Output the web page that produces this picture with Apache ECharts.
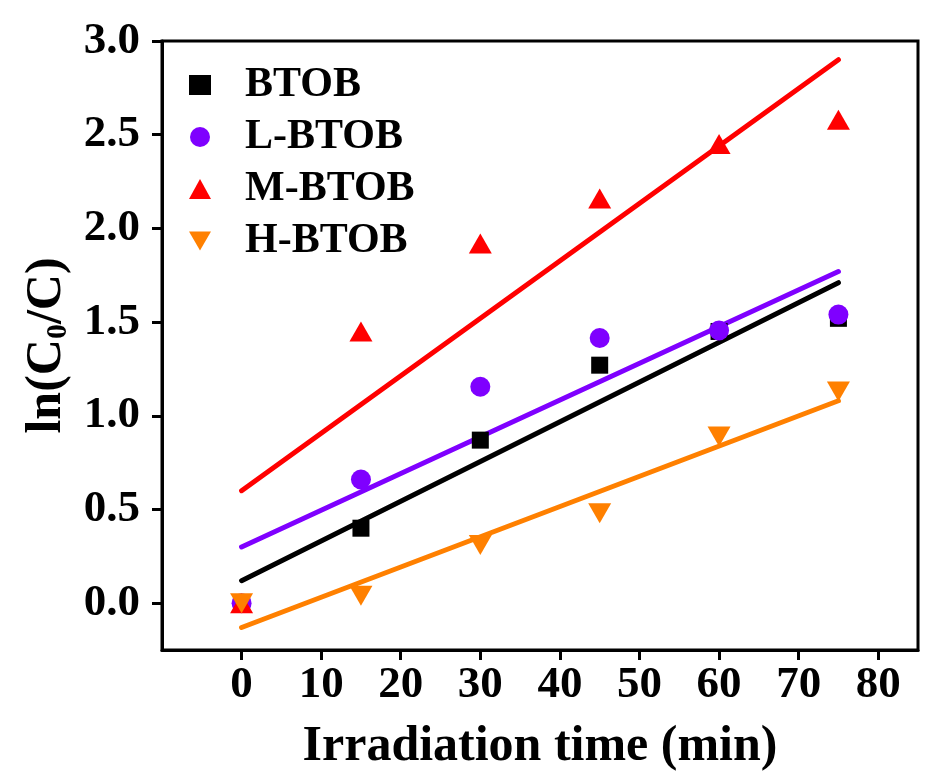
<!DOCTYPE html>
<html>
<head>
<meta charset="utf-8">
<script src="https://cdn.jsdelivr.net/npm/echarts@6/dist/echarts.min.js"></script>
<style>html,body{margin:0;padding:0;background:#fff}#c{width:945px;height:784px}</style>
</head>
<body>
<div id="c"></div>
<script>
const times = [0, 15, 30, 45, 60, 75];
const btob  = [0, 0.40, 0.87, 1.27, 1.45, 1.52];
const lbtob = [0, 0.66, 1.155, 1.415, 1.455, 1.54];
const mbtob = [0, 1.45, 1.92, 2.16, 2.45, 2.58];
const hbtob = [0, 0.04, 0.31, 0.48, 0.89, 1.13];
const fitX = [0, 75];
const fitBTOB  = [0.12, 1.71];
const fitLBTOB = [0.30, 1.77];
const fitMBTOB = [0.60, 2.90];
const fitHBTOB = [-0.13, 1.08];
const xTicks = [0, 10, 20, 30, 40, 50, 60, 70, 80];
const yTicks = [0, 0.5, 1.0, 1.5, 2.0, 2.5, 3.0];
const names = ['BTOB', 'L-BTOB', 'M-BTOB', 'H-BTOB'];
const colors = ['#000000', '#7f00ff', '#ff0000', '#ff8000'];

const pts = (xs, ys) => xs.map((x, i) => [x, ys[i]]);
const FONT = '"Liberation Serif", "Times New Roman", serif';

const chart = echarts.init(document.getElementById('c'));
const scatterDefs = [
  {data: btob, symbol: 'rect', size: 17, rot: 0},
  {data: lbtob, symbol: 'circle', size: 20, rot: 0},
  {data: mbtob, symbol: 'triangle', size: [23, 20], rot: 0},
  {data: hbtob, symbol: 'triangle', size: [23, 20], rot: 180}
];
const legendIcons = ['rect', 'circle', 'triangle', 'path://M0,0 L23,0 L11.5,20 Z'];
const fits = [fitBTOB, fitLBTOB, fitMBTOB, fitHBTOB];
const series = [];
fits.forEach((f, i) => {
  series.push({
    name: names[i] + ' fit', type: 'line', data: pts(fitX, f), symbol: 'none',
    lineStyle: {color: colors[i], width: 5, cap: 'round'}, z: 2, silent: true
  });
});
scatterDefs.forEach((d, i) => {
  series.push({
    name: names[i], type: 'scatter', data: pts(times, d.data),
    symbol: d.symbol, symbolSize: d.size, symbolRotate: d.rot,
    itemStyle: {color: colors[i], opacity: 1}, z: 3
  });
});

chart.setOption({
  backgroundColor: '#ffffff',
  animation: false,
  textStyle: {fontFamily: FONT},
  grid: {left: 162, right: 27, top: 41, bottom: 134, containLabel: false, outerBoundsMode: 'none',
         show: true, borderColor: '#000', borderWidth: 3, backgroundColor: 'transparent'},
  legend: {
    data: names.map((n, i) => ({name: n, icon: legendIcons[i]})),
    orient: 'vertical', left: 184, top: 59,
    itemWidth: 22, itemHeight: 20, itemGap: 10, symbolRotate: 0,
    textStyle: {fontFamily: FONT, fontWeight: 'bold', fontSize: 42, lineHeight: 42, color: '#000', padding: [0, 0, 0, 29]}
  },
  xAxis: {
    type: 'value', min: -10, max: 85,
    name: 'Irradiation time (min)', nameLocation: 'middle', nameGap: 72,
    nameTextStyle: {fontFamily: FONT, fontWeight: 'bold', fontSize: 50, color: '#000'},
    axisLine: {show: true, onZero: false, lineStyle: {color: '#000', width: 3}},
    axisTick: {show: true, inside: false, length: 10, lineStyle: {color: '#000', width: 3}, customValues: xTicks},
    axisLabel: {fontFamily: FONT, fontWeight: 'bold', fontSize: 45, color: '#000', margin: 13, customValues: xTicks,
                formatter: v => String(v)},
    splitLine: {show: false}
  },
  yAxis: {
    type: 'value', min: -0.25, max: 3.0,
    name: '{a|ln(C}{s|0}{a|/C)}', nameLocation: 'middle', nameGap: 89, nameRotate: 90,
    nameTextStyle: {fontFamily: FONT, fontWeight: 'bold', fontSize: 50, color: '#000',
      rich: {
        a: {fontFamily: FONT, fontWeight: 'bold', fontSize: 50, color: '#000'},
        s: {fontFamily: FONT, fontWeight: 'bold', fontSize: 30, color: '#000', verticalAlign: 'bottom', padding: [22, 0, 0, 0]}
      }},
    axisLine: {show: true, onZero: false, lineStyle: {color: '#000', width: 3}},
    axisTick: {show: true, inside: false, length: 10, lineStyle: {color: '#000', width: 3}, customValues: yTicks},
    axisLabel: {fontFamily: FONT, fontWeight: 'bold', fontSize: 45, color: '#000', margin: 22, customValues: yTicks,
                formatter: v => v.toFixed(1)},
    splitLine: {show: false}
  },
  series: series
});
</script>
</body>
</html>
